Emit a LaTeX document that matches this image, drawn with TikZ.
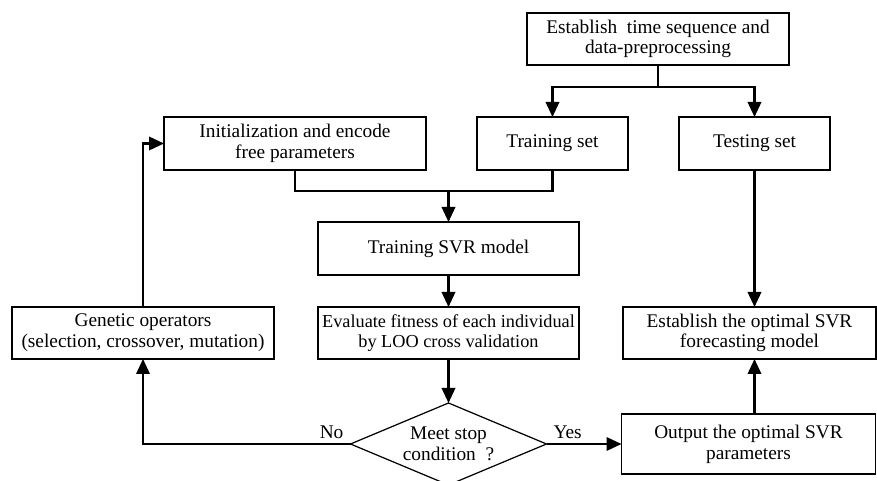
\documentclass[tikz,border=0pt]{standalone}
\usepackage{fontspec}
\setmainfont{Liberation Serif}
\usepackage{tikz}
\usetikzlibrary{
arrows.meta,
positioning,
shapes.geometric
}

\begin{document}
\begin{tikzpicture}[
box/.style={
rectangle,
draw=black,
line width=0.7pt,
minimum width=5.24cm,
minimum height=1.04cm,
inner sep=1pt,
outer sep=0pt,
align=center,
font=\fontsize{11pt}{11.8pt}\selectfont
},
decision/.style={
diamond,
draw=black,
line width=0.7pt,
aspect=2.4,
minimum width=3.92cm,
minimum height=1.64cm,
inner sep=0pt,
outer sep=0pt,
align=center,
font=\fontsize{11pt}{11.8pt}\selectfont
},
lbl/.style={font=\fontsize{11pt}{12pt}\selectfont, inner sep=1pt},
conn/.style={line width=1.2pt},
arrow/.style={-{Triangle[length=0.3cm,width=0.27cm]},line width=1.2pt}
]

% page frame
\clip (0,0) rectangle (17.54,-9.62);
\useasboundingbox (0,0) rectangle (17.54,-9.62);

\node[box] (prep) at (13.16,-0.78)
{Establish\ \ time sequence and\\data-preprocessing};

\node[box, minimum width=3.02cm, minimum height=1.06cm] (trainset) at (11.05,-2.87)
{Training set};

\node[box, minimum width=3.02cm, minimum height=1.06cm, right=1.02cm of trainset]
(testset) {Testing set};

\node[box, minimum height=1.06cm, left=1.02cm of trainset]
(init) {Initialization and encode\\free parameters};

\node[box, minimum width=5.22cm, minimum height=1.06cm] (svr) at (8.97,-4.97)
{Training SVR model};

\node[box, minimum width=5.22cm, below=0.64cm of svr,
font=\fontsize{10.4pt}{11.8pt}\selectfont] (eval)
{Evaluate fitness of each individual\\by LOO cross validation};

\node[box, left=0.88cm of eval] (genetic)
{Genetic operators\\(selection, crossover, mutation)};

\node[box, minimum width=5.06cm, right=0.88cm of eval] (optimal)
{Establish the optimal SVR\\forecasting model};

\node[decision, below=0.88cm of eval] (decide)
{Meet stop\\condition\ \ ?};

\node[box, minimum width=5.08cm, minimum height=1.2cm, right=1.5cm of decide]
(output) {Output the optimal SVR\\parameters};

\node[lbl, above left=0.06cm and 0.1cm of decide.west] (no) {No};
\node[lbl, above right=0.06cm and 0.1cm of decide.east] (yes) {Yes};

\coordinate[below=0.44cm of prep.south] (split);
\coordinate[above=0.62cm of svr.north] (merge);

\draw[conn] (prep.south) -- (split);
\draw[arrow] (split) -| (trainset.north);
\draw[arrow] (split) -| (testset.north);

\draw[conn] (init.south) |- (merge) -| (trainset.south);
\draw[arrow] (merge) -- (svr.north);
\draw[arrow] (svr) -- (eval);
\draw[arrow] (eval) -- (decide);

\draw[arrow] (decide.west) -| (genetic.south);
\draw[arrow] (genetic.north) |- (init.west);
\draw[arrow] (decide.east) -- (output.west);

\draw[arrow] (testset.south) -- (testset.south |- optimal.north);
\draw[arrow] (output.north -| testset.south) -- (optimal.south -| testset.south);

\end{tikzpicture}
\end{document}
